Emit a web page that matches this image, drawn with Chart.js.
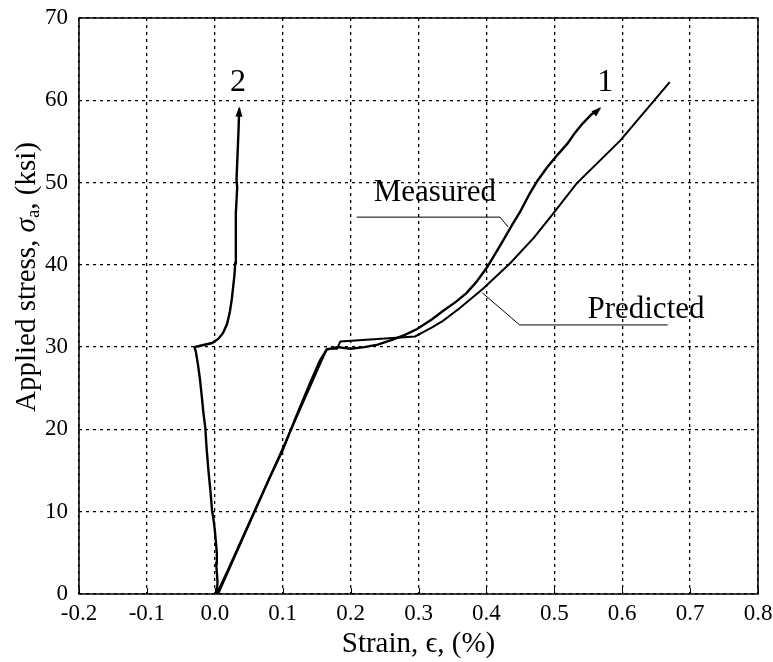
<!DOCTYPE html>
<html>
<head>
<meta charset="utf-8">
<script src="https://cdn.jsdelivr.net/npm/chart.js@4/dist/chart.umd.min.js"></script>
<style>
  html, body { margin: 0; padding: 0; background: #fff; }
  #wrap { width: 773px; height: 662px; position: relative; }
</style>
</head>
<body>
<div id="wrap"><canvas id="c"></canvas></div>
<script>
// === データ (Strain %, Stress ksi) ===
const xTicks = [-0.2, -0.1, 0.0, 0.1, 0.2, 0.3, 0.4, 0.5, 0.6, 0.7, 0.8];
const yTicks = [0, 10, 20, 30, 40, 50, 60, 70];

// 試験片 1 測定値
const measured1X = [0.003, 0.02, 0.05, 0.08, 0.10, 0.12, 0.14, 0.155, 0.165, 0.18, 0.20, 0.22, 0.24, 0.262, 0.28, 0.298, 0.32, 0.336, 0.355, 0.371, 0.385, 0.401, 0.42, 0.439, 0.45, 0.464, 0.475, 0.489, 0.505, 0.519, 0.53, 0.542, 0.555, 0.567];
const measured1Y = [0, 3.0, 8.5, 14.0, 17.5, 21.6, 25.6, 28.4, 29.7, 30.0, 29.8, 30.0, 30.3, 30.9, 31.5, 32.2, 33.4, 34.4, 35.5, 36.6, 37.9, 39.7, 42.3, 45.0, 46.5, 48.7, 50.2, 51.8, 53.4, 54.7, 56.0, 57.2, 58.3, 59.0];

// 予測値
const predictedX = [0.005, 0.165, 0.18, 0.185, 0.295, 0.32, 0.336, 0.36, 0.395, 0.435, 0.47, 0.498, 0.533, 0.597, 0.670];
const predictedY = [0, 29.8, 29.8, 30.7, 31.3, 32.4, 33.2, 34.7, 37.1, 40.2, 43.3, 46.2, 49.9, 55.1, 62.2];

// 試験片 2 測定値
const measured2X = [0.003, 0.004, 0.002, 0.003, 0.0, -0.002, -0.004, -0.006, -0.009, -0.012, -0.014, -0.017, -0.019, -0.022, -0.025, -0.028, -0.030, -0.020, -0.004, 0.005, 0.012, 0.018, 0.022, 0.025, 0.027, 0.029, 0.030, 0.031, 0.031, 0.033, 0.032, 0.034, 0.035, 0.036];
const measured2Y = [0, 1.5, 3.7, 5.0, 7.8, 9.1, 10.1, 12.1, 14.7, 17.6, 20.2, 22.2, 23.9, 26.2, 28.0, 29.5, 30.0, 30.2, 30.5, 31.0, 31.7, 32.8, 34.2, 35.8, 37.3, 38.8, 40.2, 42.9, 46.3, 49.4, 50.4, 54.4, 56.5, 59.0];

// 注記ラベル
const noteTexts = ['2', '1', 'Measured', 'Predicted'];
const noteX = [0.034, 0.575, 0.324, 0.635];
const noteY = [62.1, 62.1, 48.7, 34.5];
const noteSizes = [32, 32, 31, 31];

// 引出線
const measuredLeaderX = [0.209, 0.420, 0.432];
const measuredLeaderY = [45.8, 45.8, 44.6];
const predictedLeaderX = [0.394, 0.449, 0.667];
const predictedLeaderY = [36.6, 32.7, 32.7];

const toPts = (xs, ys) => xs.map((x, i) => ({ x: x, y: ys[i] }));

const SERIF = "'Liberation Serif', 'Times New Roman', serif";

// === 枠・目盛・注記の描画 ===
const decoPlugin = {
    id: 'deco',
    afterDraw(chart) {
        const { ctx, chartArea: a, scales: { x, y } } = chart;
        ctx.save();
        ctx.strokeStyle = '#000';
        ctx.lineWidth = 1.5;
        ctx.strokeRect(a.left, a.top, a.right - a.left, a.bottom - a.top);

        // 下辺の内向き目盛
        ctx.lineWidth = 1;
        ctx.beginPath();
        xTicks.forEach(v => {
            const px = Math.round(x.getPixelForValue(v)) + 0.5;
            ctx.moveTo(px, a.bottom);
            ctx.lineTo(px, a.bottom - 6);
        });
        ctx.stroke();

        // 引出線
        ctx.lineWidth = 1;
        [[measuredLeaderX, measuredLeaderY], [predictedLeaderX, predictedLeaderY]].forEach(([lx, ly]) => {
            ctx.beginPath();
            lx.forEach((v, i) => {
                const px = x.getPixelForValue(v), py = y.getPixelForValue(ly[i]);
                if (i === 0) ctx.moveTo(px, py); else ctx.lineTo(px, py);
            });
            ctx.stroke();
        });

        // 注記テキスト
        ctx.fillStyle = '#000';
        ctx.textAlign = 'center';
        ctx.textBaseline = 'middle';
        noteTexts.forEach((t, i) => {
            ctx.font = `${noteSizes[i]}px ${SERIF}`;
            ctx.fillText(t, x.getPixelForValue(noteX[i]), y.getPixelForValue(noteY[i]));
        });

        // 測定曲線の終端矢印
        [[measured1X, measured1Y], [measured2X, measured2Y]].forEach(([sx, sy]) => {
            const n = sx.length;
            const x1 = x.getPixelForValue(sx[n - 1]), y1 = y.getPixelForValue(sy[n - 1]);
            const x0 = x.getPixelForValue(sx[n - 3]), y0 = y.getPixelForValue(sy[n - 3]);
            const ang = Math.atan2(y1 - y0, x1 - x0);
            const L = 8, W = 3.5;
            ctx.beginPath();
            ctx.moveTo(x1 + Math.cos(ang) * 2, y1 + Math.sin(ang) * 2);
            ctx.lineTo(x1 - Math.cos(ang) * L - Math.sin(ang) * W, y1 - Math.sin(ang) * L + Math.cos(ang) * W);
            ctx.lineTo(x1 - Math.cos(ang) * L + Math.sin(ang) * W, y1 - Math.sin(ang) * L - Math.cos(ang) * W);
            ctx.closePath();
            ctx.fill();
        });

        // Y軸タイトル (下付き文字あり)
        ctx.translate(27, 277);
        ctx.rotate(-Math.PI / 2);
        ctx.textAlign = 'left';
        ctx.textBaseline = 'middle';
        const big = `29px ${SERIF}`, ital = `italic 29px ${SERIF}`, sub = `19px ${SERIF}`;
        const parts = [
            ['Applied stress, ', big, 0],
            ['\u03C3', ital, 0],
            ['a', sub, 7],
            [', (ksi)', big, 0],
        ];
        let w = 0;
        parts.forEach(p => { ctx.font = p[1]; w += ctx.measureText(p[0]).width; });
        let cx = -w / 2;
        parts.forEach(p => {
            ctx.font = p[1];
            ctx.fillText(p[0], cx, p[2]);
            cx += ctx.measureText(p[0]).width;
        });
        ctx.restore();
    }
};

const lineStyle = (data, w) => ({
    data: data,
    borderColor: '#000',
    borderWidth: w,
    pointRadius: 0,
    fill: false,
    tension: 0,
    showLine: true,
});

new Chart(document.getElementById('c'), {
    type: 'scatter',
    data: {
        datasets: [
            lineStyle(toPts(measured1X, measured1Y), 2.4),
            lineStyle(toPts(predictedX, predictedY), 2),
            lineStyle(toPts(measured2X, measured2Y), 2.4),
        ],
    },
    options: {
        responsive: true,
        maintainAspectRatio: false,
        animation: false,
        layout: { padding: { top: 18, right: 15, left: 0, bottom: 0 } },
        plugins: { legend: { display: false }, tooltip: { enabled: false } },
        scales: {
            x: {
                type: 'linear',
                min: -0.2,
                max: 0.8,
                afterBuildTicks: s => { s.ticks = xTicks.map(v => ({ value: v })); },
                afterFit: s => { s.height = 68; s.paddingLeft = 0; s.paddingRight = 0; },
                ticks: {
                    color: '#000',
                    font: { family: SERIF, size: 23 },
                    padding: 6,
                    maxRotation: 0,
                    callback: v => v.toFixed(1),
                },
                grid: { color: '#000', lineWidth: 1.3, drawTicks: false },
                border: { display: false, dash: [3, 4] },
                title: {
                    display: true,
                    text: 'Strain, \u03F5, (%)',
                    color: '#000',
                    font: { family: SERIF, size: 29 },
                    padding: { top: 0, bottom: 0 },
                },
            },
            y: {
                type: 'linear',
                min: 0,
                max: 70,
                afterBuildTicks: s => { s.ticks = yTicks.map(v => ({ value: v })); },
                afterFit: s => { s.width = 79; s.paddingTop = 0; s.paddingBottom = 0; },
                ticks: {
                    color: '#000',
                    font: { family: SERIF, size: 23 },
                    padding: 11,
                },
                grid: { color: '#000', lineWidth: 1.3, drawTicks: false },
                border: { display: false, dash: [3, 4] },
            },
        },
    },
    plugins: [decoPlugin],
});
</script>
</body>
</html>
